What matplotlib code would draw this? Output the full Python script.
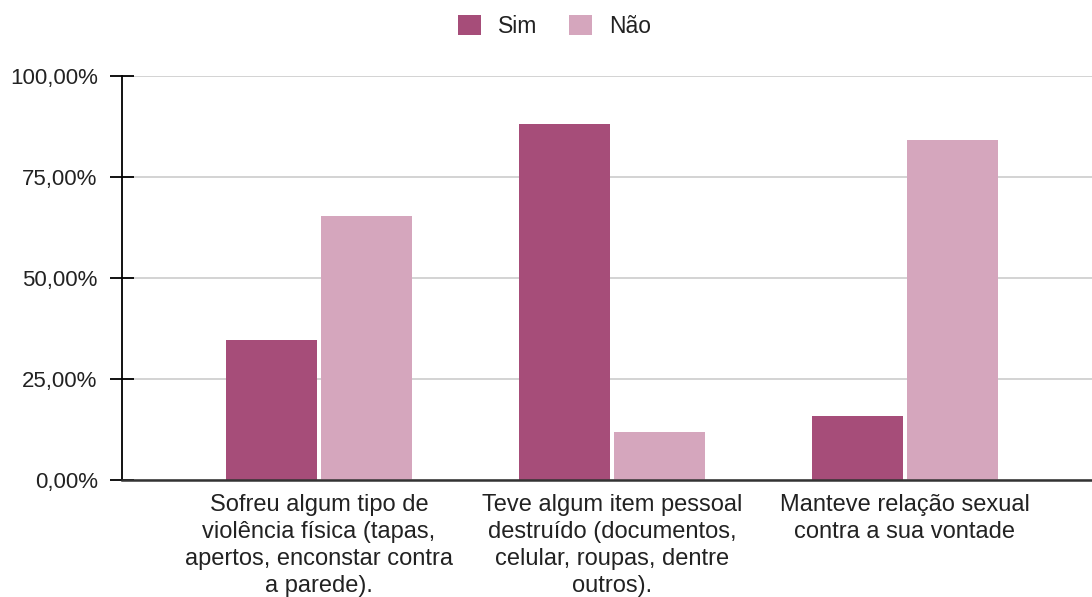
import matplotlib.pyplot as plt
import numpy as np
from matplotlib.ticker import FuncFormatter

categories = [
    "Sofreu algum tipo de\nviolência física (tapas,\napertos, enconstar contra\na parede).",
    "Teve algum item pessoal\ndestruído (documentos,\ncelular, roupas, dentre\noutros).",
    "Manteve relação sexual\ncontra a sua vontade",
]
sim = [34.7, 88.1, 15.8]
nao = [65.3, 11.9, 84.2]
series_names = ["Sim", "Não"]
colors = ["#a64d79", "#d5a6bd"]

plt.rcParams['font.family'] = ['Liberation Sans', 'DejaVu Sans']

fig = plt.figure(figsize=(10.92, 5.97), dpi=100)
ax = fig.add_axes([0.1117, 0.196, 0.8883, 0.677])

x = np.arange(len(categories))
w = 0.311
off = 0.162
ax.bar(x - off, sim, w, color=colors[0], label=series_names[0], zorder=3)
ax.bar(x + off, nao, w, color=colors[1], label=series_names[1], zorder=3)

ax.set_xlim(-0.673, 2.64)
ax.set_ylim(0, 100)
ax.set_yticks([0, 25, 50, 75, 100])
ax.yaxis.set_major_formatter(FuncFormatter(lambda v, p: f"{v:.2f}%".replace(".", ",")))
ax.grid(axis='y', color='#cccccc', linewidth=1.2, zorder=0)

ax.set_xticks(x)
ax.set_xticklabels(categories, fontsize=17, color='#222222', linespacing=1.3, va='top')
ax.tick_params(axis='x', length=0, pad=10)
ax.tick_params(axis='y', direction='inout', length=17, width=1.3, color='black',
               labelsize=16, labelcolor='#222222', pad=9)

for s in ['top', 'right']:
    ax.spines[s].set_visible(False)
ax.spines['left'].set_linewidth(1.3)
ax.spines['left'].set_color('black')
ax.spines['bottom'].set_linewidth(1.8)
ax.spines['bottom'].set_color('#333333')
ax.spines['bottom'].set_zorder(4)

fig.legend(loc='upper center', bbox_to_anchor=(0.508, 1.01), ncol=2, frameon=False,
           fontsize=16.5, handlelength=1.0, handleheight=1.0, columnspacing=1.4,
           handletextpad=0.75, labelcolor='#222222')

fig.savefig("out.png", dpi=100)
